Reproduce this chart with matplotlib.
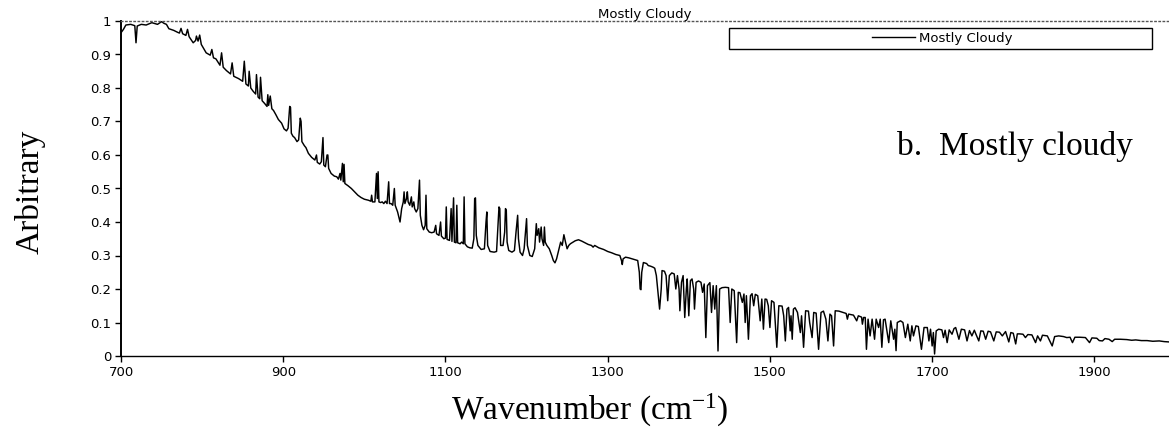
import matplotlib
matplotlib.use("Agg")
import matplotlib.pyplot as plt
from matplotlib.patches import Rectangle

# ---- data (wavenumber cm-1, arbitrary units) ----
seg_700_1000 = [
    (700, 0.965), (703, 0.975), (706, 0.988), (712, 0.99), (717, 0.986), (718.5, 0.935),
    (720, 0.985), (725, 0.99), (731, 0.988), (738, 0.995), (745, 0.99), (750, 0.998),
    (753, 0.993), (756, 0.99), (759, 0.977), (765, 0.972), (770, 0.966), (772, 0.964),
    (774, 0.978), (776, 0.962), (780, 0.957), (782, 0.975), (784, 0.953), (789, 0.935),
    (792, 0.942), (793, 0.955), (795, 0.94), (797, 0.958), (799, 0.93), (805, 0.905),
    (810, 0.898), (812, 0.915), (814, 0.89), (817, 0.887), (822, 0.868), (824, 0.905),
    (826, 0.862), (830, 0.852), (835, 0.842), (837, 0.875), (839, 0.835), (845, 0.828),
    (850, 0.82), (852, 0.88), (854, 0.812), (857, 0.806), (858, 0.85), (860, 0.8),
    (863, 0.79), (866, 0.782), (867, 0.84), (869, 0.773), (871, 0.768), (872, 0.832),
    (874, 0.762), (877, 0.754), (880, 0.745), (881, 0.78), (882, 0.748), (884, 0.776),
    (886, 0.738), (888, 0.733), (891, 0.72), (894, 0.706), (898, 0.695), (901, 0.678),
    (904, 0.672), (906, 0.68), (908, 0.745), (909, 0.742), (910, 0.665), (912, 0.656),
    (914, 0.652), (917, 0.64), (919, 0.645), (921, 0.71), (922, 0.7), (923, 0.64),
    (926, 0.628), (928, 0.622), (931, 0.605), (935, 0.593), (939, 0.585), (941, 0.6),
    (942, 0.578), (945, 0.573), (947, 0.58), (949, 0.652), (950, 0.57), (952, 0.565),
    (954, 0.6), (955, 0.6), (956, 0.56), (959, 0.545), (963, 0.537), (966, 0.535),
    (968, 0.528), (970, 0.545), (971, 0.525), (973, 0.575), (974, 0.52), (975, 0.572),
    (976, 0.515), (980, 0.508), (984, 0.5), (988, 0.49), (992, 0.48), (996, 0.473),
]
seg_1000_1250 = [
    (1000, 0.468), (1005, 0.465), (1008, 0.462), (1009, 0.48), (1010, 0.46), (1013, 0.46),
    (1014, 0.5), (1015, 0.545), (1016, 0.47), (1017, 0.55), (1018, 0.46), (1020, 0.458),
    (1022, 0.46), (1024, 0.455), (1026, 0.462), (1028, 0.455), (1030, 0.52), (1031, 0.455),
    (1033, 0.455), (1035, 0.45), (1037, 0.5), (1038, 0.45), (1041, 0.43), (1044, 0.40),
    (1046, 0.44), (1048, 0.46), (1049, 0.49), (1050, 0.455), (1052, 0.47), (1053, 0.49),
    (1054, 0.46), (1056, 0.45), (1058, 0.475), (1059, 0.445), (1061, 0.46), (1062, 0.44),
    (1064, 0.43), (1066, 0.44), (1068, 0.525), (1069, 0.42), (1071, 0.39), (1073, 0.377),
    (1075, 0.39), (1076, 0.48), (1077, 0.38), (1080, 0.37), (1083, 0.368), (1086, 0.37),
    (1088, 0.39), (1089, 0.365), (1092, 0.36), (1094, 0.4), (1095, 0.358), (1098, 0.35),
    (1100, 0.352), (1101, 0.445), (1102, 0.348), (1105, 0.345), (1107, 0.44), (1108, 0.342),
    (1110, 0.472), (1111, 0.34), (1113, 0.338), (1114, 0.45), (1115, 0.338), (1118, 0.335),
    (1120, 0.34), (1122, 0.335), (1123, 0.475), (1124, 0.335), (1127, 0.326), (1130, 0.323),
    (1133, 0.322), (1135, 0.35), (1136, 0.47), (1137, 0.472), (1138, 0.36), (1140, 0.33),
    (1144, 0.318), (1148, 0.32), (1150, 0.4), (1151, 0.43), (1152, 0.33), (1155, 0.312),
    (1160, 0.31), (1163, 0.312), (1165, 0.4), (1166, 0.445), (1167, 0.44), (1168, 0.33),
    (1171, 0.33), (1173, 0.37), (1174, 0.44), (1175, 0.435), (1176, 0.34), (1178, 0.315),
    (1182, 0.31), (1185, 0.315), (1187, 0.37), (1189, 0.42), (1190, 0.35), (1192, 0.31),
    (1195, 0.30), (1197, 0.32), (1199, 0.38), (1200, 0.41), (1201, 0.33), (1204, 0.3),
    (1207, 0.297), (1210, 0.32), (1212, 0.395), (1213, 0.36), (1215, 0.38), (1216, 0.34),
    (1218, 0.385), (1219, 0.35), (1221, 0.33), (1222, 0.385), (1223, 0.34), (1225, 0.33),
    (1228, 0.32), (1231, 0.3), (1233, 0.285), (1235, 0.278), (1237, 0.29), (1240, 0.32),
    (1242, 0.34), (1244, 0.33), (1246, 0.362), (1248, 0.34),
]
seg_1250_1500 = [
    (1250, 0.32), (1252, 0.33), (1254, 0.335), (1256, 0.338), (1260, 0.344), (1264, 0.347),
    (1268, 0.343), (1272, 0.338), (1276, 0.333), (1280, 0.33), (1282, 0.325), (1284, 0.33),
    (1289, 0.323), (1295, 0.318), (1300, 0.312), (1305, 0.308), (1310, 0.303), (1315, 0.3),
    (1317, 0.285), (1318, 0.273), (1319, 0.29), (1322, 0.295), (1326, 0.293), (1330, 0.29),
    (1333, 0.288), (1337, 0.285), (1339, 0.25), (1340, 0.2), (1341, 0.198), (1342, 0.25),
    (1344, 0.279), (1348, 0.276), (1350, 0.27), (1353, 0.268), (1356, 0.265), (1358, 0.262),
    (1360, 0.24), (1362, 0.19), (1364, 0.14), (1366, 0.2), (1367, 0.255), (1370, 0.253),
    (1372, 0.24), (1374, 0.165), (1376, 0.24), (1379, 0.248), (1382, 0.245), (1384, 0.2),
    (1386, 0.24), (1388, 0.2), (1389, 0.135), (1391, 0.22), (1393, 0.24), (1395, 0.115),
    (1397, 0.2), (1398, 0.23), (1400, 0.12), (1402, 0.225), (1404, 0.23), (1406, 0.2),
    (1407, 0.14), (1409, 0.22), (1412, 0.224), (1415, 0.22), (1417, 0.19), (1419, 0.215),
    (1421, 0.055), (1423, 0.21), (1426, 0.219), (1428, 0.13), (1430, 0.21), (1432, 0.14),
    (1434, 0.21), (1436, 0.015), (1438, 0.2), (1441, 0.204), (1445, 0.205), (1449, 0.204),
    (1451, 0.1), (1453, 0.2), (1456, 0.195), (1459, 0.04), (1461, 0.19), (1463, 0.189),
    (1466, 0.16), (1468, 0.185), (1469.5, 0.1), (1471, 0.18), (1473.5, 0.05), (1476, 0.18),
    (1478, 0.186), (1480, 0.15), (1482, 0.184), (1485, 0.18), (1488, 0.105), (1490, 0.17),
    (1492, 0.08), (1494, 0.17), (1496, 0.169), (1498, 0.15),
]
seg_1500_1750 = [
    (1500, 0.085), (1502, 0.165), (1505, 0.16), (1508.5, 0.026), (1511, 0.15), (1515, 0.149),
    (1517, 0.12), (1519, 0.045), (1521, 0.14), (1523, 0.145), (1525, 0.075), (1526, 0.12),
    (1527.5, 0.05), (1529, 0.14), (1531, 0.144), (1534, 0.13), (1537.5, 0.07), (1539, 0.12),
    (1541.5, 0.026), (1544, 0.135), (1547.5, 0.134), (1549, 0.1), (1552, 0.055), (1554, 0.13),
    (1557, 0.128), (1560, 0.02), (1563, 0.13), (1566, 0.134), (1569, 0.11), (1571.5, 0.045),
    (1574, 0.125), (1576, 0.12), (1578.5, 0.03), (1580.5, 0.135), (1585, 0.134), (1590, 0.13),
    (1594, 0.127), (1595.5, 0.11), (1597, 0.125), (1603, 0.122), (1607, 0.105), (1609, 0.12),
    (1613, 0.116), (1614, 0.095), (1615.5, 0.115), (1617.5, 0.115), (1619, 0.02), (1621, 0.11),
    (1623.5, 0.06), (1626, 0.11), (1629, 0.05), (1631, 0.11), (1634, 0.085), (1636, 0.11),
    (1638, 0.026), (1640, 0.108), (1642, 0.11), (1646.5, 0.04), (1649, 0.105), (1652.5, 0.05),
    (1654, 0.08), (1655.5, 0.016), (1657, 0.1), (1661, 0.105), (1664, 0.1), (1667, 0.055),
    (1670, 0.095), (1673, 0.045), (1675, 0.09), (1677, 0.06), (1680, 0.09), (1683, 0.088),
    (1686.8, 0.02), (1690, 0.085), (1694, 0.085), (1696, 0.045), (1698, 0.08), (1700, 0.03),
    (1701.5, 0.07), (1703, 0.006), (1705, 0.075), (1708, 0.08), (1712, 0.078), (1714, 0.055),
    (1716, 0.077), (1718.5, 0.04), (1721, 0.078), (1724.5, 0.065), (1727, 0.082), (1729, 0.085),
    (1733, 0.05), (1736, 0.08), (1740, 0.078), (1743, 0.045), (1746, 0.076), (1749, 0.06),
]
seg_1750_1992 = [
    (1752, 0.077), (1754, 0.065), (1757.5, 0.045), (1760, 0.075), (1763, 0.074), (1766, 0.05),
    (1769, 0.074), (1772, 0.072), (1776, 0.045), (1779, 0.072), (1783, 0.071), (1786.5, 0.06),
    (1790.5, 0.073), (1794.5, 0.042), (1797, 0.07), (1800, 0.068), (1803, 0.036), (1805, 0.066),
    (1808, 0.066), (1812, 0.065), (1815, 0.055), (1818, 0.064), (1823, 0.063), (1827.5, 0.04),
    (1830, 0.06), (1833.5, 0.045), (1836, 0.062), (1842, 0.06), (1848, 0.03), (1851, 0.058),
    (1856, 0.06), (1862, 0.058), (1866, 0.055), (1870, 0.056), (1873, 0.04), (1876, 0.056),
    (1882, 0.056), (1889, 0.055), (1894, 0.04), (1897, 0.054), (1903, 0.053), (1906, 0.046),
    (1910, 0.045), (1913, 0.052), (1918, 0.05), (1922, 0.043), (1925, 0.05), (1932, 0.05),
    (1940, 0.049), (1946, 0.047), (1951, 0.048), (1958, 0.046), (1965, 0.046), (1972, 0.044),
    (1980, 0.045), (1986, 0.043), (1992, 0.042),
]

series_name = "Mostly Cloudy"
x_ticks = [700, 900, 1100, 1300, 1500, 1700, 1900]
y_ticks = [0, 0.1, 0.2, 0.3, 0.4, 0.5, 0.6, 0.7, 0.8, 0.9, 1.0]
y_tick_labels = ["0", "0.1", "0.2", "0.3", "0.4", "0.5", "0.6", "0.7", "0.8", "0.9", "1"]

points = seg_700_1000 + seg_1000_1250 + seg_1250_1500 + seg_1500_1750 + seg_1750_1992
wavenumber = [p[0] for p in points]
signal = [p[1] for p in points]

plt.rcParams["mathtext.fontset"] = "custom"
plt.rcParams["mathtext.rm"] = "Liberation Serif"
plt.rcParams["mathtext.it"] = "Liberation Serif:italic"

W, H = 1169, 436
fig = plt.figure(figsize=(W / 100, H / 100), dpi=100)
ax = fig.add_axes([121 / W, 1 - 356 / H, 1 - 121 / W, (356 - 21) / H])

ax.plot(wavenumber, signal, color="black", lw=1.05, label=series_name)
ax.set_xlim(700, 1992)
ax.set_ylim(0, 1)
ax.set_xticks(x_ticks)
ax.set_yticks(y_ticks)
ax.set_yticklabels(y_tick_labels)
ax.tick_params(direction="out", length=4, width=1, labelsize=9.5, pad=3, colors="black")
for lab in ax.get_xticklabels() + ax.get_yticklabels():
    lab.set_family("DejaVu Sans")

ax.spines["right"].set_visible(False)
ax.spines["top"].set_linestyle((0, (1, 2)))
ax.spines["top"].set_color("#555555")
ax.spines["top"].set_linewidth(1.0)
ax.spines["left"].set_linewidth(1.4)
ax.spines["bottom"].set_linewidth(1.0)

ax.set_title(series_name, fontsize=9.5, family="DejaVu Sans", pad=2)

# legend box
box = Rectangle((729 / W, 1 - 49 / H), 423 / W, 21 / H, transform=fig.transFigure,
                facecolor="white", edgecolor="black", lw=1.0, zorder=4, clip_on=False)
ax.add_artist(box)
leg = ax.legend(loc="center", bbox_to_anchor=(942 / W, 1 - 38.5 / H), bbox_transform=fig.transFigure,
                frameon=False, handlelength=3.3, handletextpad=0.3, borderpad=0, borderaxespad=0,
                prop={"family": "DejaVu Sans", "size": 9.5})
leg.set_zorder(6)
for h in leg.get_lines():
    h.set_linewidth(1.0)

fig.text(897 / W, 1 - 146 / H, "b.  Mostly cloudy", family="Liberation Serif", fontsize=24,
         ha="left", va="center")
fig.text(30 / W, 1 - 192 / H, "Arbitrary", family="Liberation Serif", fontsize=24,
         rotation=90, ha="center", va="center")
fig.text(590 / W, 1 - 410 / H, "Wavenumber (cm$^{-1}$)", family="Liberation Serif", fontsize=24,
         ha="center", va="center")

fig.savefig("out.png", dpi=100)
